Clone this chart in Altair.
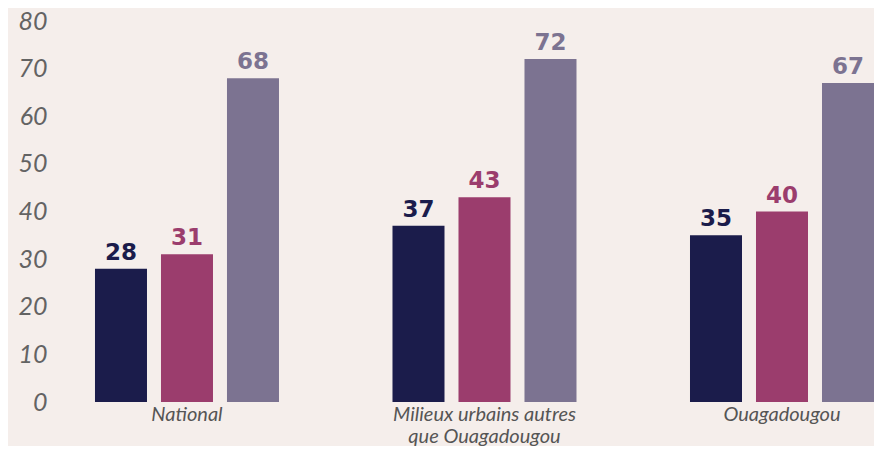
import altair as alt
import pandas as pd

categories = ["National", "Milieux urbains autres|que Ouagadougou", "Ouagadougou"]
series = ["Série 1", "Série 2", "Série 3"]
values_s1 = [28, 37, 35]
values_s2 = [31, 43, 40]
values_s3 = [68, 72, 67]
colors = ["#1b1c4b", "#9b3d6d", "#7c7391"]
y_ticks = [0, 10, 20, 30, 40, 50, 60, 70, 80]

rows = []
for i, c in enumerate(categories):
    for s, vals in zip(series, [values_s1, values_s2, values_s3]):
        rows.append({"cat": c, "serie": s, "val": vals[i]})
df = pd.DataFrame(rows)

x = alt.X("cat:N", sort=categories,
          scale=alt.Scale(paddingInner=0.3815, paddingOuter=0.0672, align=1),
          axis=alt.Axis(title=None, labelAngle=0, domain=False, ticks=False,
                        labelFont="Lato", labelFontStyle="italic", labelFontSize=20,
                        labelColor="#555555", labelPadding=2, labelLineHeight=22,
                        labelLimit=400,
                        labelExpr="split(datum.label, '|')"))
xo = alt.XOffset("serie:N", sort=series,
                 scale=alt.Scale(paddingInner=0.212, paddingOuter=0))
y = alt.Y("val:Q", scale=alt.Scale(domain=[0, 80], nice=False),
          axis=alt.Axis(title=None, values=y_ticks, grid=False, domain=False, ticks=False,
                        labelFont="Lato", labelFontStyle="italic", labelFontSize=25,
                        labelColor="#636363", labelPadding=8))
color = alt.Color("serie:N", sort=series, scale=alt.Scale(domain=series, range=colors), legend=None)

base = alt.Chart(df).encode(x=x, xOffset=xo, y=y, color=color)
bars = base.mark_bar()
labels = base.mark_text(baseline="alphabetic", dy=-9, font="DejaVu Sans",
                        fontWeight="bold", fontSize=23).encode(text="val:Q")

chart = (bars + labels).properties(
    width=819, height=381,
    autosize=alt.AutoSizeParams(type="none"),
    padding={"left": 47, "top": 13, "right": 0, "bottom": 44},
    background="#f5eeeb",
).configure_view(stroke=None)

chart.save("out.html", embed_options={"renderer": "svg", "actions": False})
